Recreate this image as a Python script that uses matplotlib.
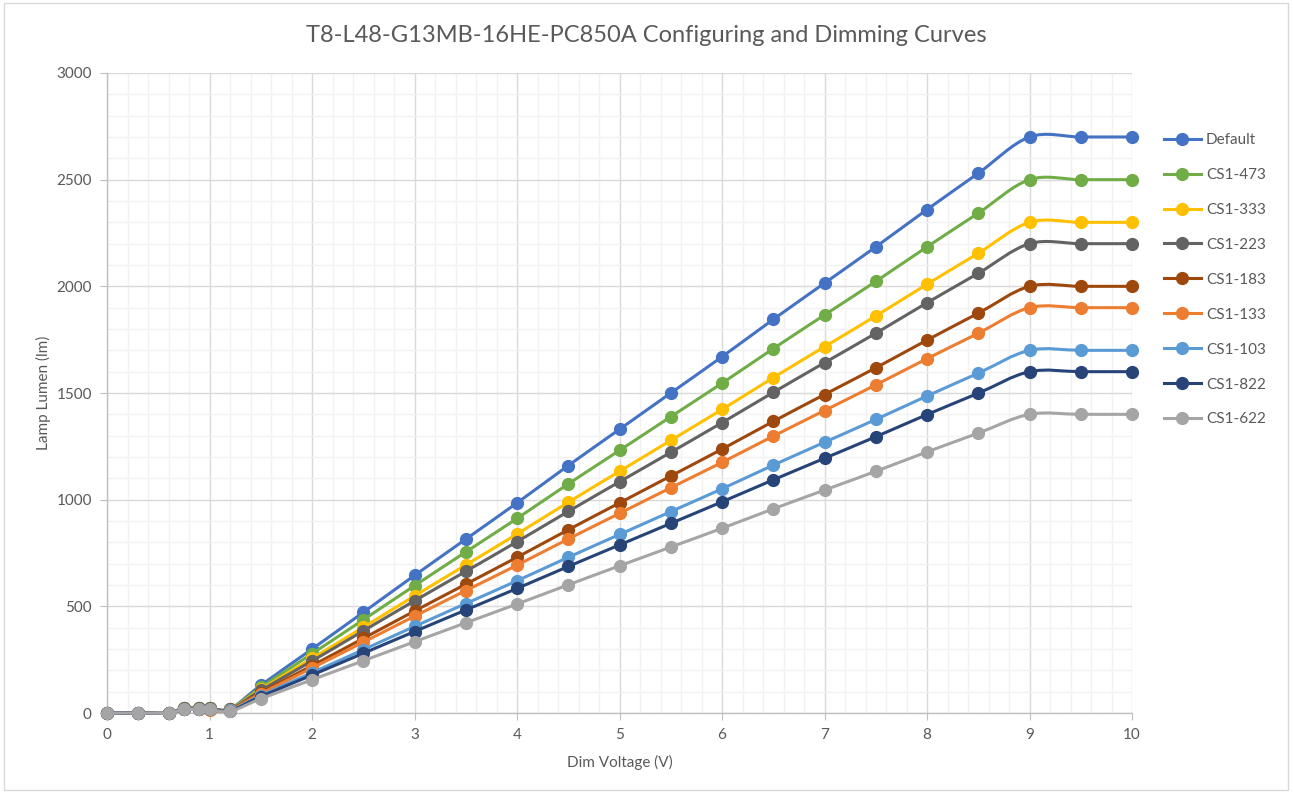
import numpy as np
import matplotlib
matplotlib.use('Agg')
from matplotlib import pyplot as plt
from matplotlib.path import Path
from matplotlib.patches import PathPatch, Rectangle
from matplotlib.lines import Line2D

plt.rcParams['font.family'] = ['Lato', 'DejaVu Sans']

# dim voltage points
volts = [0, 0.3, 0.6, 0.75, 0.9, 1.0, 1.2, 1.5, 2, 2.5, 3, 3.5, 4, 4.5, 5, 5.5,
         6, 6.5, 7, 7.5, 8, 8.5, 9, 9.5, 10]

names = ['Default', 'CS1-473', 'CS1-333', 'CS1-223', 'CS1-183',
         'CS1-133', 'CS1-103', 'CS1-822', 'CS1-622']

lum_default = [0, 0, 0, 24, 24, 24, 20, 130, 300, 472, 645, 815, 985, 1160, 1330, 1500,
               1670, 1845, 2015, 2185, 2360, 2530, 2700, 2700, 2700]
lum_473 = [0, 0, 0, 23, 23, 23, 19, 120, 278, 437, 597, 755, 912, 1074, 1231, 1389,
           1546, 1708, 1866, 2023, 2185, 2343, 2500, 2500, 2500]
lum_333 = [0, 0, 0, 22, 22, 22, 18, 111, 256, 402, 549, 694, 839, 988, 1133, 1278,
           1423, 1572, 1717, 1861, 2010, 2155, 2300, 2300, 2300]
lum_223 = [0, 0, 0, 22, 22, 22, 17, 106, 244, 385, 526, 664, 803, 945, 1084, 1222,
           1361, 1503, 1642, 1780, 1923, 2061, 2200, 2200, 2200]
lum_183 = [0, 0, 0, 21, 21, 21, 16, 96, 222, 350, 478, 604, 730, 859, 985, 1111,
           1237, 1367, 1493, 1618, 1748, 1874, 2000, 2000, 2000]
lum_133 = [0, 0, 0, 21, 21, 12, 15, 91, 211, 332, 454, 574, 693, 816, 936, 1056,
           1175, 1298, 1418, 1538, 1661, 1780, 1900, 1900, 1900]
lum_103 = [0, 0, 0, 20, 20, 20, 13, 82, 189, 297, 406, 513, 620, 730, 837, 944,
           1051, 1162, 1269, 1376, 1486, 1593, 1700, 1700, 1700]
lum_822 = [0, 0, 0, 19, 19, 19, 11, 77, 178, 280, 382, 483, 584, 687, 788, 889,
           990, 1093, 1194, 1295, 1399, 1499, 1600, 1600, 1600]
lum_622 = [0, 0, 0, 18, 18, 18, 8, 67, 156, 245, 334, 423, 511, 601, 690, 778,
           866, 957, 1045, 1133, 1224, 1312, 1400, 1400, 1400]

all_lum = [lum_default, lum_473, lum_333, lum_223, lum_183,
           lum_133, lum_103, lum_822, lum_622]

colors = ['#4472C4', '#70AD47', '#FFC000', '#636363', '#9E480E',
          '#ED7D31', '#5B9BD5', '#264478', '#A5A5A5']


def smooth_path(x, y):
    # excel-like smoothed line: bezier segments through the data points
    pts = np.column_stack((x, y)).astype(float)
    n = len(pts)
    verts = [pts[0]]
    codes = [Path.MOVETO]
    for i in range(n - 1):
        p0 = pts[i - 1] if i > 0 else pts[i]
        p1 = pts[i]
        p2 = pts[i + 1]
        p3 = pts[i + 2] if i + 2 < n else pts[i + 1]
        c1 = p1 + (p2 - p0) / 6.0
        c2 = p2 - (p3 - p1) / 6.0
        verts += [c1, c2, p2]
        codes += [Path.CURVE4] * 3
    return Path(verts, codes)


fig = plt.figure(figsize=(12.93, 7.95), dpi=100)
ax = fig.add_axes([0.0828, 0.1031, 0.7927, 0.8051])

for i in range(len(names)):
    patch = PathPatch(smooth_path(volts, all_lum[i]), facecolor='none',
                      edgecolor=colors[i], lw=2.2, zorder=3 + i * 0.1,
                      capstyle='round', joinstyle='round', clip_on=False)
    ax.add_patch(patch)
    ax.plot(volts, all_lum[i], ls='none', marker='o', ms=8.5,
            color=colors[i], zorder=3.05 + i * 0.1, clip_on=False)

ax.set_xlim(0, 10)
ax.set_ylim(0, 3000)
ax.set_xticks(np.arange(0, 11, 1))
ax.set_yticks(np.arange(0, 3001, 500))
ax.set_xticks(np.arange(0, 10.01, 0.2), minor=True)
ax.set_yticks(np.arange(0, 3001, 100), minor=True)
ax.grid(which='major', color='#D9D9D9', lw=1.0, zorder=1)
ax.grid(which='minor', color='#F2F2F2', lw=1.0, zorder=0.5)
ax.set_axisbelow(True)
for s in ['top', 'right']:
    ax.spines[s].set_visible(False)
for s in ['left', 'bottom']:
    ax.spines[s].set_color('#BFBFBF')
    ax.spines[s].set_linewidth(1.0)
ax.tick_params(which='major', length=5, color='#BFBFBF', labelcolor='#595959',
               labelsize=11, pad=6)
ax.tick_params(which='minor', length=0)

ax.set_xlabel('Dim Voltage (V)', fontsize=11, color='#595959', labelpad=9)
ax.set_ylabel('Lamp Lumen (lm)', fontsize=11, color='#595959', labelpad=4)
fig.text(646 / 1293, 1 - 35 / 795,
         'T8-L48-G13MB-16HE-PC850A Configuring and Dimming Curves',
         ha='center', va='center', fontsize=17, color='#595959')

handles = [Line2D([0], [0], color=colors[i], lw=2.2, marker='o', ms=8.5)
           for i in range(len(names))]
fig.legend(handles, names, loc='upper left', bbox_to_anchor=(0.8895, 0.85),
           frameon=False, fontsize=11, labelspacing=1.37, handlelength=2.4,
           handletextpad=0.35, labelcolor='#595959')

fig.add_artist(Rectangle((0.003, 0.006), 0.993, 0.99, transform=fig.transFigure,
                         fill=False, edgecolor='#D9D9D9', lw=1.0))

fig.savefig('out.png', dpi=100)
